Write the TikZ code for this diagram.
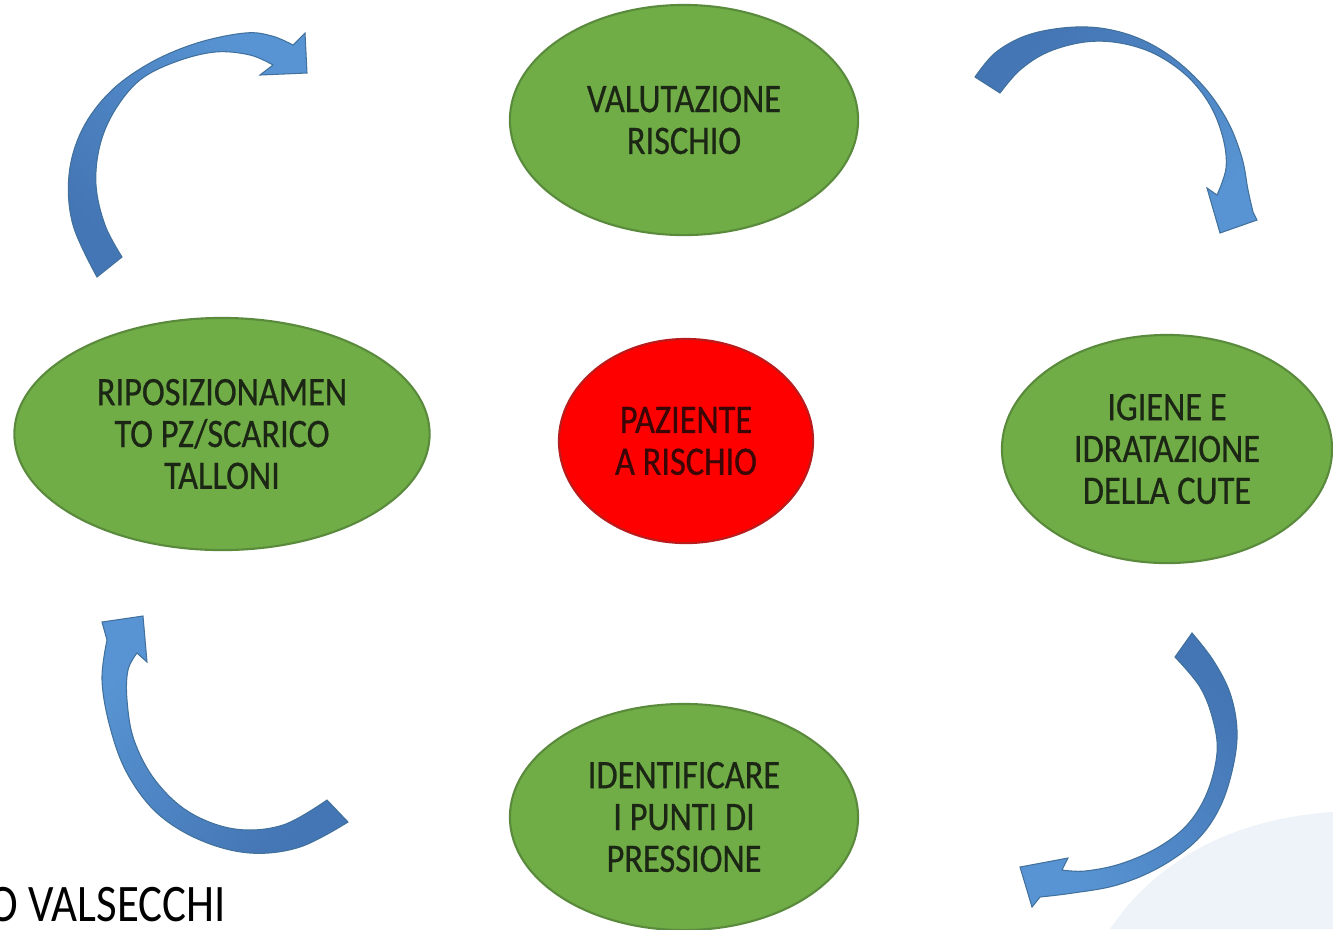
\documentclass[tikz,border=0pt]{standalone}
\usepackage{fontspec}
\setmainfont{Carlito}[FakeStretch=0.85]
\newfontfamily\phasefont{Carlito}[FakeStretch=0.85, FakeBold=0.6]
\usetikzlibrary{shapes.geometric}
\definecolor{cyclegreen}{HTML}{70AD47}
\definecolor{cyclegreenline}{HTML}{5A8A3C}
\definecolor{riskred}{HTML}{FF0000}
\definecolor{riskredline}{HTML}{B81C1C}
\definecolor{greentext}{HTML}{1C2614}
\definecolor{redtext}{HTML}{3A0606}
\definecolor{arrowdark}{HTML}{4475B4}
\definecolor{arrowlight}{HTML}{5894D3}
\definecolor{arrowline}{HTML}{41719C}
\definecolor{globe}{HTML}{EEF3F9}

\begin{document}
\begin{tikzpicture}[x=0.01cm, y=-0.01cm,
    phase/.style={ellipse, draw=cyclegreenline, fill=cyclegreen, line width=0.6pt,
      text=greentext, align=center, inner sep=0pt,
      font=\phasefont\fontsize{11.5}{11.9}\selectfont},
    centre/.style={phase, fill=riskred, draw=riskredline, text=redtext},
    bendarrow/.style={draw=arrowline, line width=0.3pt,
      top color=arrowlight, bottom color=arrowdark}]
  \useasboundingbox (0,0) rectangle (1333,929);
  \clip (0,0) rectangle (1333,929);

  % faint background
  \fill[globe] (1110,929) .. controls (1160,855) and (1240,818) .. (1333,812)
    -- (1333,929) -- cycle;

  % phases of the cycle
  \node[phase, minimum width=3.48cm, minimum height=2.30cm] (valutazione)
    at (684,120) {VALUTAZIONE\\RISCHIO};
  \node[centre, minimum width=2.54cm, minimum height=2.04cm] (paziente)
    at (686,441) {PAZIENTE\\A RISCHIO};
  \node[phase, minimum width=4.15cm, minimum height=2.32cm] (riposizionamento)
    at (222,434) {RIPOSIZIONAMEN\\TO PZ/SCARICO\\TALLONI};
  \node[phase, minimum width=3.30cm, minimum height=2.28cm] (igiene)
    at (1167,449) {IGIENE E\\IDRATAZIONE\\DELLA CUTE};
  \node[phase, minimum width=3.48cm, minimum height=2.26cm] (identificare)
    at (684,817) {IDENTIFICARE\\I PUNTI DI\\PRESSIONE};

  % curved block arrows
  \path[bendarrow, shading angle=-45]
    plot[smooth, tension=0.6] coordinates {(97,277) (73,225) (69,175) (82,130)
      (110,92) (150,63) (197,43) (245,33) (272,36) (293,45)}
    -- (305,33) -- (307,73) -- (260,75)
    -- plot[smooth, tension=0.6] coordinates {(273,65) (250,55) (215,52)
      (175,62) (140,80) (115,110) (100,145) (96,185) (105,225) (122,257)}
    -- cycle;
  \path[bendarrow, shading angle=-135]
    plot[smooth, tension=0.6] coordinates {(975,77) (995,53) (1025,36)
      (1062,28) (1100,28) (1138,38) (1173,58) (1205,88) (1228,122) (1242,158)
      (1248,190) (1253,212)}
    -- (1257,220) -- (1220,233) -- (1207,188)
    -- plot[smooth, tension=0.6] coordinates {(1217,195) (1226,168) (1223,138)
      (1210,105) (1187,76) (1155,54) (1120,43) (1085,42) (1048,52) (1020,70)
      (1000,93)}
    -- cycle;
  \path[bendarrow, shading angle=135]
    plot[smooth, tension=0.6] coordinates {(1192,633) (1213,660) (1230,693)
      (1237,730) (1233,767) (1220,807) (1197,840) (1160,867) (1117,885)
      (1073,893) (1040,897)}
    -- (1032,907) -- (1020,867) -- (1068,858)
    -- plot[smooth, tension=0.6] coordinates {(1062,870) (1085,871) (1120,864)
      (1157,848) (1187,825) (1207,793) (1217,753) (1213,720) (1200,687)
      (1175,657)}
    -- cycle;
  \path[bendarrow, shading angle=45]
    plot[smooth, tension=0.6] coordinates {(348,822) (300,847) (250,853)
      (200,840) (157,813) (127,773) (110,727) (102,680) (107,640)}
    -- (102,622) -- (143,616) -- (147,662)
    -- plot[smooth, tension=0.6] coordinates {(137,653) (128,670) (127,700)
      (134,740) (155,780) (189,812) (235,829) (283,825) (327,800)}
    -- cycle;

  % author, cut at the left edge
  \node[anchor=base west, inner sep=0pt, font=\fontsize{15}{18}\selectfont]
    (autore) at (-12,921) {O VALSECCHI};
\end{tikzpicture}
\end{document}
